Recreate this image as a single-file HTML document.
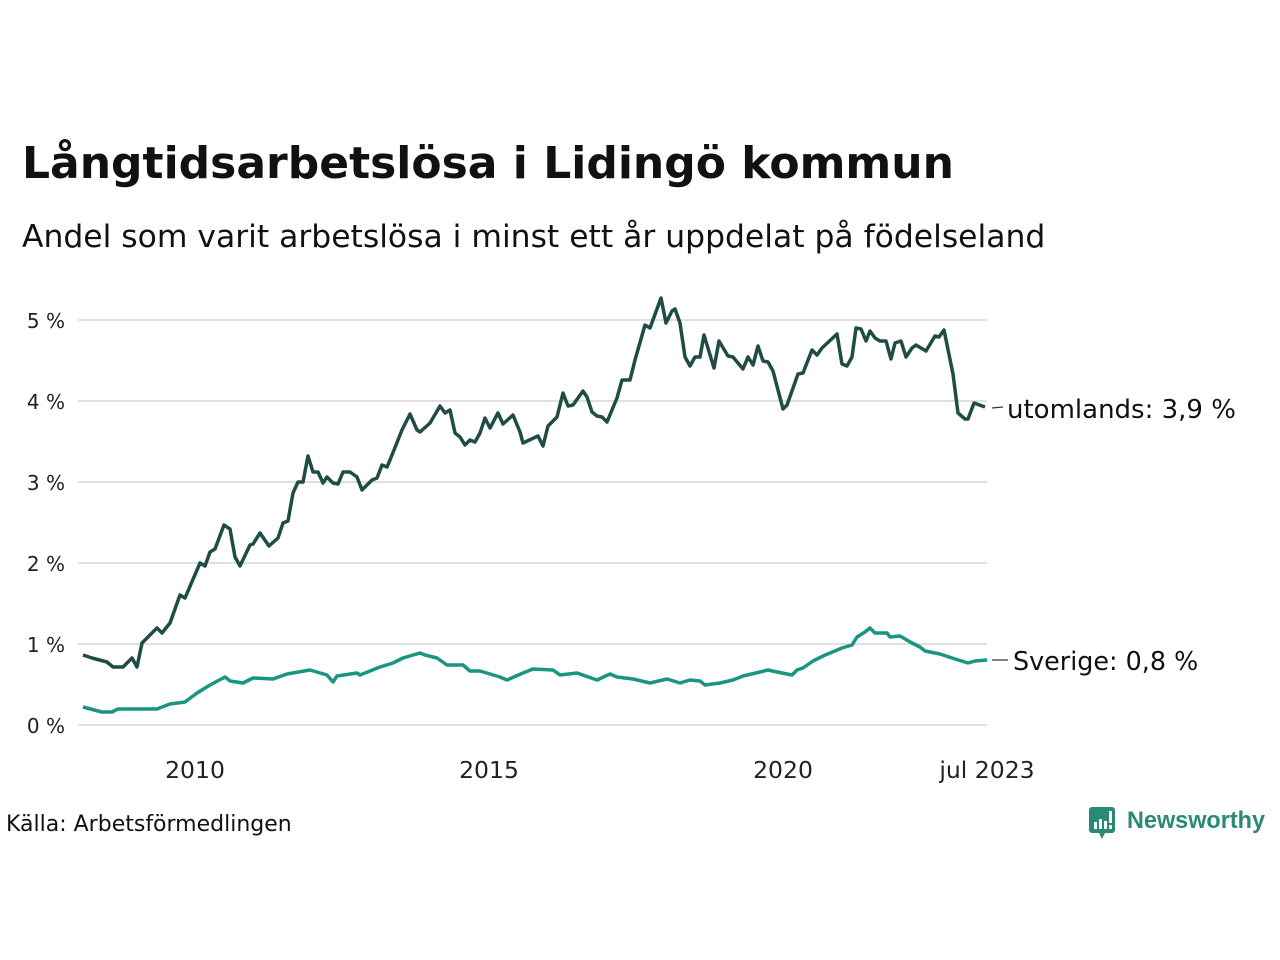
<!DOCTYPE html>
<html><head><meta charset="utf-8"><style>
body{margin:0;background:#fff;width:1280px;height:960px;overflow:hidden;font-family:"DejaVu Sans","Liberation Sans",sans-serif;color:#111}
</style></head><body>
<svg width="1280" height="960" xmlns="http://www.w3.org/2000/svg" style="position:absolute;left:0;top:0">
<text x="22" y="178" font-family="DejaVu Sans, sans-serif" font-weight="bold" font-size="44" fill="#111">Långtidsarbetslösa i Lidingö kommun</text>
<text x="22" y="247" font-family="DejaVu Sans, sans-serif" font-size="31.4" fill="#111">Andel som varit arbetslösa i minst ett år uppdelat på födelseland</text>
<g stroke="#e0e0e0" stroke-width="2">
<line x1="78" y1="320" x2="987" y2="320"/><line x1="78" y1="401" x2="987" y2="401"/><line x1="78" y1="482" x2="987" y2="482"/><line x1="78" y1="563" x2="987" y2="563"/><line x1="78" y1="644" x2="987" y2="644"/><line x1="78" y1="725" x2="987" y2="725"/>
</g>
<g font-size="20" fill="#222" text-anchor="end" font-family="DejaVu Sans, sans-serif">
<text x="65" y="328">5 %</text><text x="65" y="409">4 %</text><text x="65" y="490">3 %</text><text x="65" y="571">2 %</text><text x="65" y="652">1 %</text><text x="65" y="733">0 %</text>
</g>
<g font-size="23.5" fill="#222" text-anchor="middle" font-family="DejaVu Sans, sans-serif">
<text x="195" y="778">2010</text><text x="489" y="778">2015</text><text x="783" y="778">2020</text><text x="987" y="778">jul 2023</text>
</g>
<polyline fill="none" stroke="#1f4d45" stroke-width="3.5" stroke-linejoin="round" points="83,655 92,658 107,662 113,667 123,667 132,658 137,667 142,643 157,628 162,633 170,623 180,595 185,598 200,563 205,566 210,552 215,549 224,525 230,529 235,557 240,566 250,545 253,544 260,533 269,546 278,538 283,523 288,521 293,493 298,482 303,482 308,456 313,472 318,472 323,483 327,477 333,483 338,484 343,472 350,472 357,477 362,490 372,480 377,478 382,465 387,467 390,460 402,430 410,414 417,430 420,432 430,423 440,406 445,413 450,410 455,433 460,437 465,445 470,440 475,442 480,433 485,418 490,428 498,413 503,424 513,415 520,432 523,443 538,436 543,446 548,426 557,417 563,393 568,406 573,405 583,391 587,397 592,412 597,416 602,417 607,422 612,410 617,398 622,380 630,380 635,360 645,325 650,328 661,298 666,323 672,311 675,309 680,323 685,357 690,366 695,357 700,357 704,335 714,368 719,341 728,356 733,357 743,369 748,357 753,365 758,346 763,361 768,362 773,371 783,409 787,405 798,374 803,373 812,350 817,355 822,348 837,334 842,364 847,366 852,357 856,328 861,329 866,341 870,331 875,338 880,341 886,341 891,359 895,343 901,341 906,357 912,348 916,345 926,351 935,336 939,337 944,330 953,374 958,413 965,419 968,419 974,403 985,407"/>
<polyline fill="none" stroke="#1a9580" stroke-width="3.5" stroke-linejoin="round" points="83,707 102,712 112,712 118,709 137,709 157,709 170,704 185,702 197,693 210,685 225,677 230,681 243,683 253,678 273,679 287,674 310,670 327,675 333,682 337,676 357,673 360,675 370,671 380,667 393,663 403,658 420,653 425,655 437,658 447,665 463,665 470,671 480,671 500,677 507,680 523,673 533,669 553,670 560,675 577,673 597,680 610,674 617,677 633,679 650,683 667,679 680,683 690,680 700,681 705,685 720,683 733,680 743,676 760,672 768,670 777,672 792,675 797,670 803,668 813,661 823,656 842,648 852,645 857,637 865,632 870,628 875,633 887,633 890,637 900,636 912,643 920,647 925,651 940,654 952,658 968,663 975,661 987,660"/>
<line x1="992" y1="408" x2="1003" y2="407" stroke="#333" stroke-width="1.2"/>
<line x1="992" y1="660" x2="1008" y2="660" stroke="#333" stroke-width="1.2"/>
<text x="1007" y="418" font-size="26" fill="#111" font-family="DejaVu Sans, sans-serif">utomlands: 3,9 %</text>
<text x="1013" y="670" font-size="25.4" fill="#111" font-family="DejaVu Sans, sans-serif">Sverige: 0,8 %</text>
<text x="6" y="831" font-size="22" fill="#111" font-family="DejaVu Sans, sans-serif">Källa: Arbetsförmedlingen</text>
<rect x="1089" y="807" width="26" height="26" rx="3" fill="#2a8a75"/>
<polygon points="1099,833 1105,833 1102,839" fill="#2a8a75"/>
<g fill="#fff"><rect x="1094" y="822" width="3" height="7"/><rect x="1099" y="819" width="3" height="10"/><rect x="1104" y="821" width="3" height="8"/><rect x="1109" y="811" width="3" height="12"/><rect x="1109" y="825" width="3" height="4"/></g>
<text x="1127" y="828" font-size="24" font-weight="bold" fill="#2a8a75" font-family="Liberation Sans, sans-serif" textLength="138" lengthAdjust="spacingAndGlyphs">Newsworthy</text>
</svg>
</body></html>
